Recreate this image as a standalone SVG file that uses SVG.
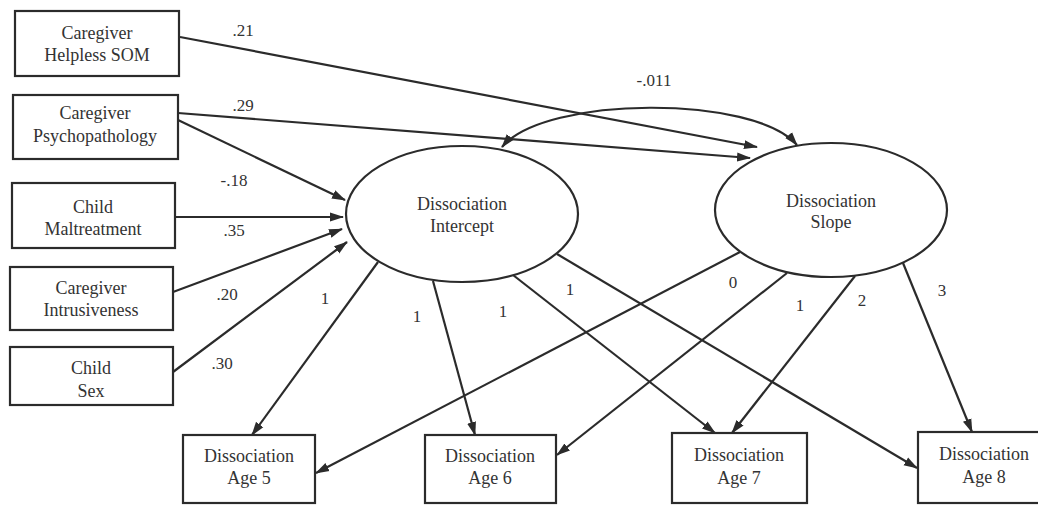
<svg xmlns="http://www.w3.org/2000/svg" width="1038" height="505" viewBox="0 0 1038 505" font-family="'Liberation Serif', 'DejaVu Serif', serif">
<style>
.box{fill:#fff;stroke:#2b2b2b;stroke-width:2.2}
.ell{fill:#fff;stroke:#2b2b2b;stroke-width:2.2}
.t{font-family:'Liberation Serif', 'DejaVu Serif', serif;font-size:18px;fill:#333;text-anchor:middle}
.lbl{font-family:'Liberation Serif', 'DejaVu Serif', serif;font-size:17px;fill:#333;text-anchor:middle}
.edge{fill:none;stroke:#2b2b2b;stroke-width:2.2;marker-end:url(#ah)}
</style>
<defs>
<marker id="ah" viewBox="0 0 14 10" refX="13" refY="5" markerWidth="14" markerHeight="10" markerUnits="userSpaceOnUse" orient="auto-start-reverse">
<path d="M0,0.5 L14,5 L0,9.5 Z" fill="#2b2b2b"/>
</marker>
</defs>
<g id="connectors">
<path class="edge" d="M180,37 L757,147"/>
<path class="edge" d="M178,113 L750,158"/>
<path class="edge" d="M178,120 L345,200"/>
<path class="edge" d="M175,217 L343,217"/>
<path class="edge" d="M173,292 L342,229"/>
<path class="edge" d="M173,372 L347,242"/>
<path class="edge" d="M502,147 C545,95 755,95 797,145" marker-start="url(#ah)"/>
<path class="edge" d="M378,262 L252,435"/>
<path class="edge" d="M433,281 L475,435"/>
<path class="edge" d="M513,275 L715,433"/>
<path class="edge" d="M557,254 L917,468"/>
<path class="edge" d="M740,252 L316,473"/>
<path class="edge" d="M787,273 L557,455"/>
<path class="edge" d="M855,276 L732,433"/>
<path class="edge" d="M903,263 L972,432"/>
<text class="lbl" x="243" y="36">.21</text>
<text class="lbl" x="243" y="111">.29</text>
<text class="lbl" x="234" y="186">-.18</text>
<text class="lbl" x="234" y="236">.35</text>
<text class="lbl" x="227" y="300">.20</text>
<text class="lbl" x="222" y="369">.30</text>
<text class="lbl" x="654" y="86">-.011</text>
<text class="lbl" x="325" y="304">1</text>
<text class="lbl" x="417" y="322">1</text>
<text class="lbl" x="503" y="317">1</text>
<text class="lbl" x="570" y="295">1</text>
<text class="lbl" x="733" y="288">0</text>
<text class="lbl" x="800" y="311">1</text>
<text class="lbl" x="862" y="306">2</text>
<text class="lbl" x="942" y="296">3</text>
</g>
<g id="helpless">
<rect class="box" x="15" y="11" width="164" height="65"/>
<text class="t" x="97" y="39">Caregiver</text>
<text class="t" x="97" y="61">Helpless SOM</text>
</g>
<g id="psychopathology">
<rect class="box" x="13" y="95" width="165" height="64"/>
<text class="t" x="95" y="119">Caregiver</text>
<text class="t" x="95" y="142">Psychopathology</text>
</g>
<g id="maltreatment">
<rect class="box" x="12" y="183" width="163" height="65"/>
<text class="t" x="93" y="213">Child</text>
<text class="t" x="93" y="235">Maltreatment</text>
</g>
<g id="intrusiveness">
<rect class="box" x="10" y="267" width="163" height="63"/>
<text class="t" x="91" y="294">Caregiver</text>
<text class="t" x="91" y="316">Intrusiveness</text>
</g>
<g id="sex">
<rect class="box" x="10" y="347" width="163" height="58"/>
<text class="t" x="91" y="374">Child</text>
<text class="t" x="91" y="397">Sex</text>
</g>
<g id="intercept">
<ellipse class="ell" cx="462" cy="214" rx="116" ry="68"/>
<text class="t" x="462" y="210">Dissociation</text>
<text class="t" x="462" y="232">Intercept</text>
</g>
<g id="slope">
<ellipse class="ell" cx="831" cy="210" rx="116" ry="67"/>
<text class="t" x="831" y="207">Dissociation</text>
<text class="t" x="831" y="228">Slope</text>
</g>
<g id="age5">
<rect class="box" x="183" y="435" width="132" height="68"/>
<text class="t" x="249" y="462">Dissociation</text>
<text class="t" x="249" y="484">Age 5</text>
</g>
<g id="age6">
<rect class="box" x="425" y="435" width="131" height="68"/>
<text class="t" x="490" y="462">Dissociation</text>
<text class="t" x="490" y="484">Age 6</text>
</g>
<g id="age7">
<rect class="box" x="672" y="433" width="135" height="70"/>
<text class="t" x="739" y="461">Dissociation</text>
<text class="t" x="739" y="484">Age 7</text>
</g>
<g id="age8">
<rect class="box" x="918" y="432" width="132" height="71"/>
<text class="t" x="984" y="460">Dissociation</text>
<text class="t" x="984" y="483">Age 8</text>
</g>
</svg>
